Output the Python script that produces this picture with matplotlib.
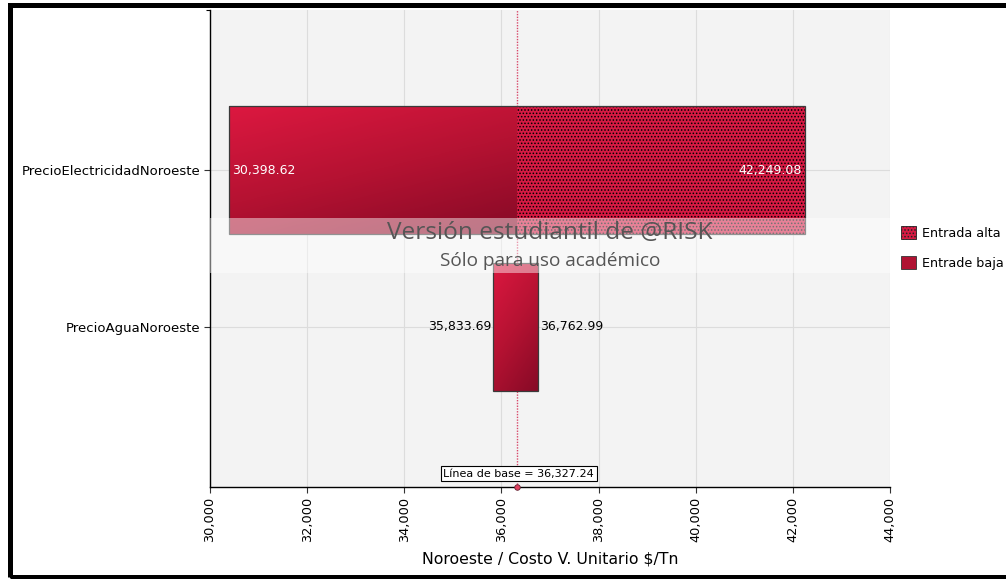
import numpy as np
import matplotlib
matplotlib.use("Agg")
import matplotlib.pyplot as plt
from matplotlib.patches import Rectangle, Patch
from matplotlib.colors import LinearSegmentedColormap
import matplotlib.transforms as mtransforms

# ---- data ----
categories = ["PrecioElectricidadNoroeste", "PrecioAguaNoroeste"]
low_values = [30398.62, 35833.69]
high_values = [42249.08, 36762.99]
high_hatched = [True, False]
baseline = 36327.24
x_ticks = [30000, 32000, 34000, 36000, 38000, 40000, 42000, 44000]
x_label = "Noroeste / Costo V. Unitario $/Tn"
legend_labels = ["Entrada alta", "Entrade baja"]
watermark_title = "Versión estudiantil de @RISK"
watermark_sub = "Sólo para uso académico"

plt.rcParams["font.family"] = ["DejaVu Sans"]
plt.rcParams["hatch.linewidth"] = 0.7

W, H = 1006, 579
fig = plt.figure(figsize=(W / 100, H / 100), dpi=100)
fig.patch.set_facecolor("white")
ax = fig.add_axes([210 / W, 1 - 487 / H, 680 / W, 477 / H])
ax.set_facecolor("#f3f3f3")

ylim = (2.02, -1.02)
ax.set_xlim(x_ticks[0], x_ticks[-1])
ax.set_ylim(*ylim)

grad_cmap = LinearSegmentedColormap.from_list(
    "crimson_grad", ["#dc1840", "#b51232", "#860a26"])
crimson = "#d61a43"
bar_h = 0.815


def gradient_rect(x0, x1, yc):
    n = 80
    u = np.linspace(0, 1, n)[None, :]
    v = np.linspace(0, 1, n)[:, None]
    t = 0.35 * u + 0.65 * v
    ax.imshow(t, cmap=grad_cmap, vmin=0, vmax=1, origin="upper",
              extent=(x0, x1, yc + bar_h / 2, yc - bar_h / 2),
              aspect="auto", interpolation="bilinear", zorder=2)


for i, (lo, hi) in enumerate(zip(low_values, high_values)):
    if high_hatched[i]:
        gradient_rect(lo, baseline, i)
        ax.barh(i, hi - baseline, left=baseline, height=bar_h,
                color=crimson, hatch=".....", edgecolor="black",
                linewidth=0, zorder=2)
    else:
        gradient_rect(lo, hi, i)
    ax.add_patch(Rectangle((lo, i - bar_h / 2), hi - lo, bar_h,
                           facecolor="none", edgecolor="#3a3a3a",
                           linewidth=0.9, zorder=3))
    # value labels: inside the bar when it is wide enough
    if hi - lo > 3000:
        ax.text(lo + 60, i, f"{lo:,.2f}", color="white", fontsize=9,
                ha="left", va="center", zorder=4)
        ax.text(hi - 60, i, f"{hi:,.2f}", color="white", fontsize=9,
                ha="right", va="center", zorder=4)
    else:
        ax.text(lo - 40, i, f"{lo:,.2f}", color="black", fontsize=9,
                ha="right", va="center", zorder=4)
        ax.text(hi + 40, i, f"{hi:,.2f}", color="black", fontsize=9,
                ha="left", va="center", zorder=4)

ax.set_xlim(x_ticks[0], x_ticks[-1])
ax.set_ylim(*ylim)

# baseline
bt = mtransforms.blended_transform_factory(ax.transData, ax.transAxes)
ax.plot([baseline, baseline], [0, 1], transform=bt, color="#d8486a",
        linewidth=1.0, linestyle=(0, (1, 1)), zorder=1.5)
ax.plot([baseline], [0], transform=bt, marker="o", markersize=4,
        markerfacecolor="#e0405f", markeredgecolor="#602030",
        markeredgewidth=0.6, clip_on=False, zorder=6)
ax.text(baseline + 30, 0.028, f"Línea de base = {baseline:,.2f}",
        transform=bt, ha="center", va="center", fontsize=8, color="black",
        zorder=6, bbox=dict(boxstyle="square,pad=0.22", facecolor="white",
                            edgecolor="black", linewidth=0.8))

# grid and axes
ax.set_xticks(x_ticks)
ax.set_xticklabels([f"{v:,}" for v in x_ticks], rotation=90, fontsize=9.3)
ax.set_yticks(range(len(categories)))
ax.set_yticklabels(categories, fontsize=9.5)
ax.set_yticks([ylim[1]], minor=True)
ax.tick_params(axis="y", which="minor", length=3, width=0.8)
ax.tick_params(axis="both", which="major", length=4, width=0.8,
               color="#333333", pad=3)
ax.grid(True, color="#dcdcdc", linewidth=0.8, zorder=0)
ax.set_axisbelow(True)
for side in ("top", "right"):
    ax.spines[side].set_visible(False)
for side in ("left", "bottom"):
    ax.spines[side].set_color("black")
    ax.spines[side].set_linewidth(1.0)
ax.set_xlabel(x_label, fontsize=11.3, labelpad=7)

# watermark band
ax.add_patch(Rectangle((0, 1 - (273 - 10) / 477), 1, 55 / 477,
                       transform=ax.transAxes, facecolor="white",
                       alpha=0.45, edgecolor="none", zorder=7))
ax.text(0.5, 1 - (233 - 10) / 477, watermark_title, transform=ax.transAxes,
        ha="center", va="center", fontsize=17.6, color="#555555",
        family="Open Sans", zorder=8)
ax.text(0.5, 1 - (261 - 10) / 477, watermark_sub, transform=ax.transAxes,
        ha="center", va="center", fontsize=13.7, color="#555555",
        family="Open Sans", zorder=8)

# legend
handles = [Patch(facecolor=crimson, hatch=".....", edgecolor="#222222", linewidth=0.6),
           Patch(facecolor="#b01232", edgecolor="#333333", linewidth=0.6)]
fig.legend(handles, legend_labels, loc="upper left",
           bbox_to_anchor=(896 / W, 1 - 221 / H), frameon=False,
           fontsize=9.2, handlelength=1.15, handleheight=1.15,
           handletextpad=0.45, labelspacing=1.3, borderaxespad=0)

# figure frame
fig.add_artist(Rectangle((9.5 / W, 1 - 576.5 / H), 1.2, 572 / H,
                         transform=fig.transFigure, facecolor="none",
                         edgecolor="black", linewidth=3.6, clip_on=False))

fig.savefig("out.png", dpi=100)
